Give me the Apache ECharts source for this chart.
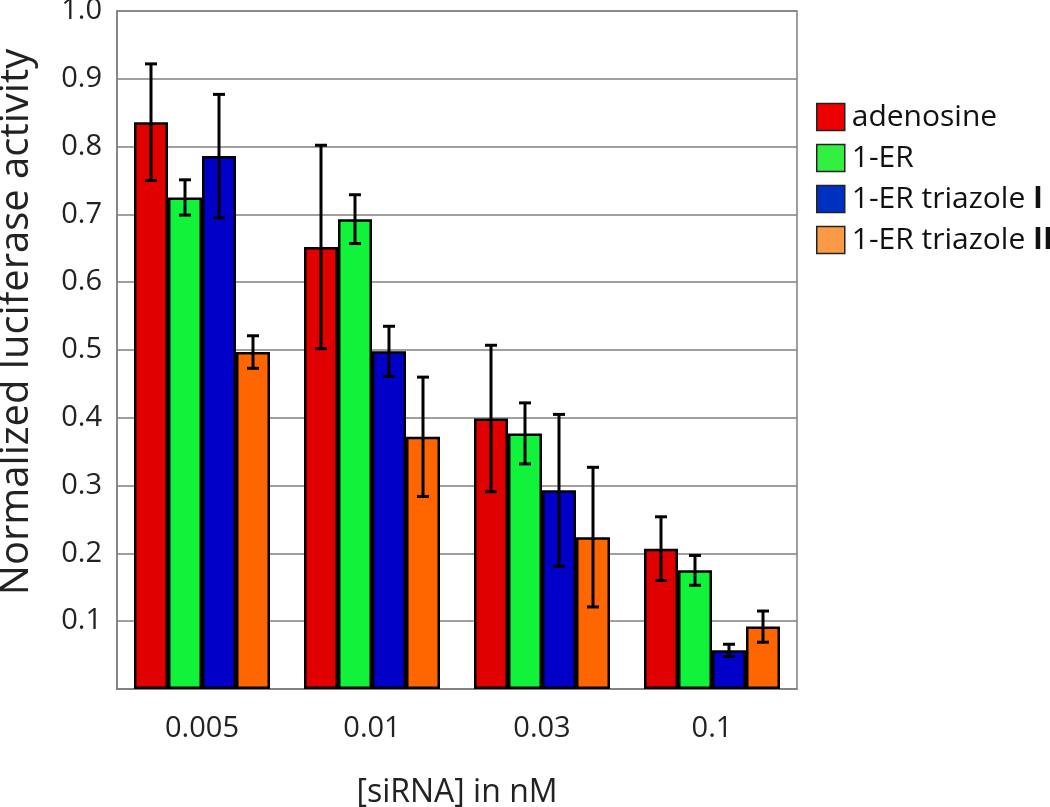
<!DOCTYPE html>
<html>
<head>
<meta charset="utf-8">
<script src="https://cdn.jsdelivr.net/npm/echarts@6/dist/echarts.min.js"></script>
<style>
  html, body { margin: 0; padding: 0; background: #fff; }
  #chart { width: 1050px; height: 807px; }
</style>
</head>
<body>
<div id="chart"></div>
<script>
// siRNA concentrations (nM)
var categories = ['0.005', '0.01', '0.03', '0.1']
var seriesNames = ['adenosine', '1-ER', '1-ER triazole I', '1-ER triazole II']

// mean values per series
var adenosine = [0.836, 0.652, 0.399, 0.207]
var er = [0.725, 0.693, 0.377, 0.175]
var triazoleI = [0.786, 0.498, 0.293, 0.057]
var triazoleII = [0.497, 0.372, 0.224, 0.092]

// error (+/-) per series
var adenosineErr = [0.086, 0.150, 0.108, 0.047]
var erErr = [0.026, 0.036, 0.045, 0.022]
var triazoleIErr = [0.091, 0.037, 0.112, 0.009]
var triazoleIIErr = [0.024, 0.088, 0.103, 0.023]

var yTicks = [0.1, 0.2, 0.3, 0.4, 0.5, 0.6, 0.7, 0.8, 0.9, 1.0]

var values = [adenosine, er, triazoleI, triazoleII]
var errors = [adenosineErr, erErr, triazoleIErr, triazoleIIErr]
var colors = ['#e00000', '#11f23a', '#0000c8', '#ff6600']
var legendColors = ['#ee0000', '#33f040', '#0030c0', '#fb9a44']

var chart = echarts.init(document.getElementById('chart'))

var barW = 34
var offsets = [-1.5, -0.5, 0.5, 1.5]

var series = []
values.forEach(function(vals, s) {
  series.push({
    name: seriesNames[s],
    type: 'bar',
    data: vals,
    barWidth: barW,
    barGap: '0%',
    itemStyle: {
      color: colors[s],
      borderColor: '#000',
      borderWidth: 2.5
    },
    emphasis: { disabled: true },
    z: 2
  })
})
values.forEach(function(vals, s) {
  var errData = vals.map(function(v, i) {
    return [i, v - errors[s][i], v + errors[s][i]]
  })
  series.push({
    type: 'custom',
    name: 'err' + s,
    data: errData,
    z: 5,
    silent: true,
    renderItem: function(params, api) {
      var lo = api.coord([api.value(0), api.value(1)])
      var hi = api.coord([api.value(0), api.value(2)])
      var x = lo[0] + offsets[s] * barW
      var cap = 6
      var style = { stroke: '#000', lineWidth: 3 }
      return {
        type: 'group',
        children: [
          { type: 'line', shape: { x1: x, y1: lo[1], x2: x, y2: hi[1] }, style: style },
          { type: 'line', shape: { x1: x - cap, y1: lo[1], x2: x + cap, y2: lo[1] }, style: style },
          { type: 'line', shape: { x1: x - cap, y1: hi[1], x2: x + cap, y2: hi[1] }, style: style }
        ]
      }
    }
  })
})

chart.setOption({
  animation: false,
  textStyle: { fontFamily: '"Open Sans", sans-serif' },
  grid: {
    left: 117,
    right: 253,
    top: 11,
    bottom: 118,
    outerBoundsMode: 'none',
    show: true,
    borderColor: '#808080',
    borderWidth: 1.5
  },
  legend: {
    orient: 'vertical',
    left: 811,
    top: 97,
    padding: 5,
    itemWidth: 28,
    itemHeight: 27,
    itemGap: 11,
    icon: 'rect',
    data: seriesNames.map(function(n, i) {
      return { name: n, itemStyle: { color: legendColors[i], borderColor: '#222', borderWidth: 1.5 } }
    }),
    formatter: function(name) {
      if (name === '1-ER triazole I') return '1-ER triazole {b|I}'
      if (name === '1-ER triazole II') return '1-ER triazole {b|II}'
      return name
    },
    textStyle: {
      fontSize: 30,
      lineHeight: 27,
      color: '#111',
      padding: [0, 0, 0, 2],
      rich: { b: { fontSize: 30, lineHeight: 27, fontWeight: 'bold', color: '#111' } }
    }
  },
  xAxis: {
    type: 'category',
    data: categories,
    name: '[siRNA] in nM',
    nameLocation: 'middle',
    nameGap: 88,
    nameTextStyle: { fontSize: 32, color: '#222' },
    axisLine: { lineStyle: { color: '#808080', width: 1.5 } },
    axisTick: { show: false },
    axisLabel: { fontSize: 29, color: '#222', margin: 25 }
  },
  yAxis: {
    type: 'value',
    min: 0,
    max: 1.0,
    interval: 0.1,
    name: 'Normalized luciferase activity',
    nameLocation: 'middle',
    nameGap: 80,
    nameTextStyle: { fontSize: 40, color: '#222', padding: [0, 0, 0, 56] },
    axisLine: { show: true, lineStyle: { color: '#808080', width: 1.5 } },
    axisTick: { show: false },
    splitLine: { lineStyle: { color: '#808080', width: 1.5 } },
    axisLabel: {
      fontSize: 29,
      color: '#222',
      margin: 15,
      formatter: function(v) {
        var t = yTicks.find(function(k) { return Math.abs(k - v) < 1e-6 })
        return t === undefined ? '' : t.toFixed(1)
      }
    }
  },
  series: series
})
</script>
</body>
</html>
